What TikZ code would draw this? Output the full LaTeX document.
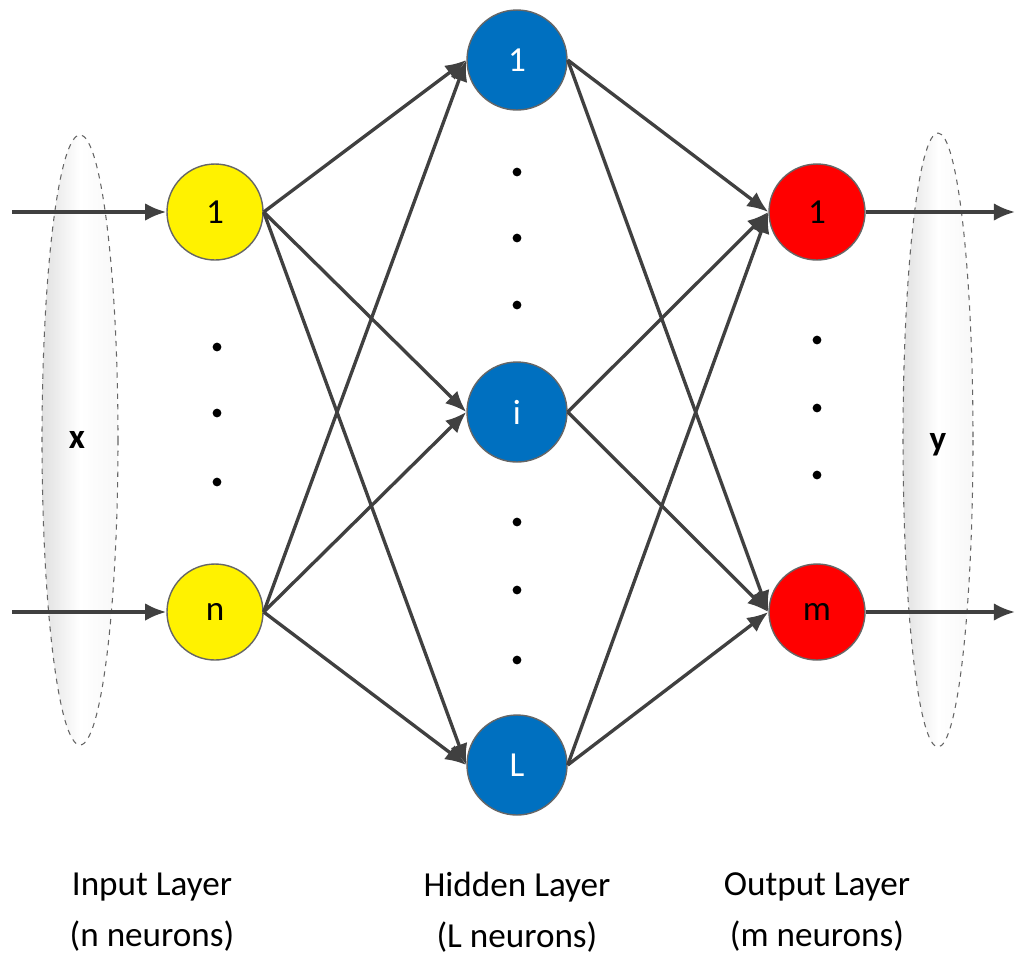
\documentclass[tikz,border=0pt]{standalone}
\usepackage{fontspec}
\setmainfont{Carlito}
\usetikzlibrary{arrows.meta}
\definecolor{hblue}{HTML}{0070C0}
\begin{document}
\begin{tikzpicture}[x=0.02cm,y=-0.02cm,
  neu/.style={circle,draw=black!60,line width=0.8pt,minimum size=96*0.02cm,inner sep=0pt,font=\fontsize{20}{22}\selectfont},
  hid/.style={neu,fill=hblue,text=white,minimum size=100*0.02cm},
  con/.style={draw=black!75,line width=1.9pt,-{Latex[length=12pt,width=10pt]}},
  dot/.style={circle,fill=black,inner sep=0pt,minimum size=5pt},
  ell/.style={draw=black!60,dashed,line width=0.6pt,left color=black!12,right color=black!3,middle color=white},
  lab/.style={font=\fontsize{20}{29}\selectfont,align=center}]
\useasboundingbox (0,0) rectangle (1024,965);
\path[ell] (80,440) ellipse [x radius=38,y radius=305];
\path[ell] (938,440) ellipse [x radius=35,y radius=307];
\node[font=\fontsize{20}{22}\selectfont\bfseries] (x) at (77,440) {x};
\node[font=\fontsize{20}{22}\selectfont\bfseries] (y) at (938,445) {y};
\node[neu,fill=yellow] (i1) at (215,212) {1};
\node[neu,fill=yellow] (in) at (215,612) {n};
\node[hid] (h1) at (517,60) {1};
\node[hid] (hi) at (517,412) {i};
\node[hid] (hL) at (517,765) {L};
\node[neu,fill=red] (o1) at (817,212) {1};
\node[neu,fill=red] (om) at (817,612) {m};
\coordinate (a1) at (12,212); \coordinate (an) at (12,612);
\coordinate (b1) at (1015,212); \coordinate (bm) at (1015,612);
\draw[con] (a1) -- (i1); \draw[con] (an) -- (in);
\draw[con] (o1) -- (b1); \draw[con] (om) -- (bm);
\foreach \s in {i1,in} \foreach \t in {h1,hi,hL} \draw[con] (\s.east) -- (\t.west);
\foreach \s in {h1,hi,hL} \foreach \t in {o1,om} \draw[con] (\s.east) -- (\t.west);
\foreach \yy in {347,413,482} \node[dot] at (217,\yy) {};
\foreach \yy in {172,238,305,522,590,660} \node[dot] at (517,\yy) {};
\foreach \yy in {340,408,475} \node[dot] at (817,\yy) {};
\node[lab] (l1) at (152,912) {Input Layer\\(n neurons)};
\node[lab] (l2) at (517,912) {Hidden Layer\\(L neurons)};
\node[lab] (l3) at (817,912) {Output Layer\\(m neurons)};
\end{tikzpicture}
\end{document}
